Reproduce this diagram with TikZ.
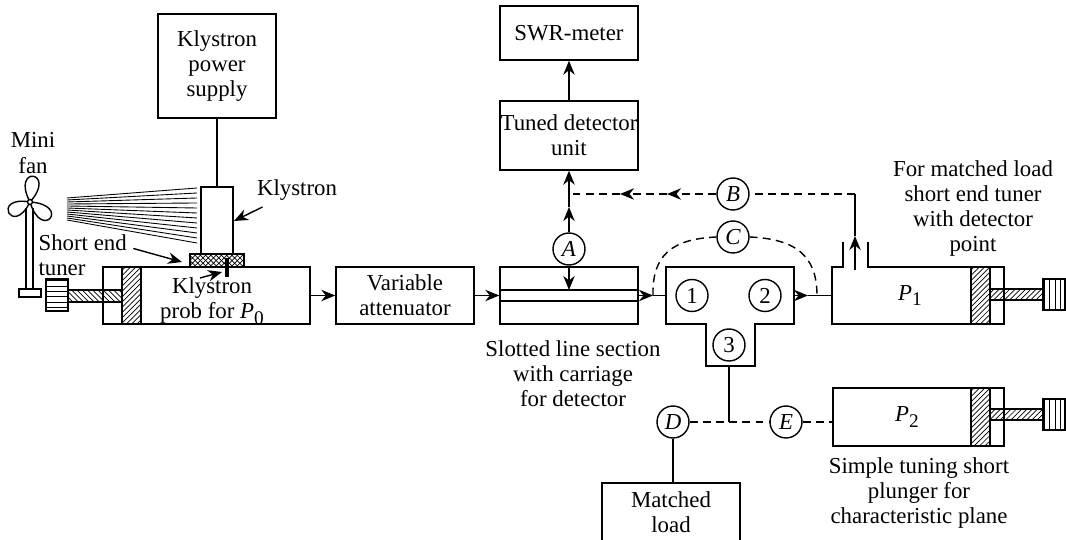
\documentclass[tikz,border=0pt]{standalone}
\usepackage{fontspec}
\setmainfont{Liberation Serif}
\usetikzlibrary{arrows.meta,patterns,positioning}

% italic P with a lowered index
\newcommand{\portP}[1]{\textit{P}\raisebox{-.55ex}{\fontsize{11}{11}\selectfont #1}}

\begin{document}
\begin{tikzpicture}[x=0.02cm,y=-0.02cm,line width=0.8pt,
    >={Stealth[length=8pt,width=6.5pt]},
    every node/.style={font=\fontsize{13}{14.3}\selectfont,align=center},
    unitbox/.style={rectangle,draw,inner sep=0pt},
    port/.style={circle,draw,minimum size=0.64cm,inner sep=0pt},
    dashline/.style={dash pattern=on 4.5pt off 3pt},
    plunger/.style={draw,pattern=north east lines}]
  \useasboundingbox (0,0) rectangle (1066,540);

  % mini fan
  \coordinate (hub) at (30,202);
  \draw (hub) .. controls (58,170.6) and (10.4,164.8) .. (hub)
        (hub) .. controls (12.4,237.8) and (-9.2,195) .. (hub)
        (hub) .. controls (71.9,204.8) and (42.1,242.2) .. (hub);
  \draw[fill=white] (hub) circle (2.5);
  \draw (26,208) -- (26,289) (33,208) -- (33,289);
  \draw (19,289) rectangle (41,297);
  \node (fanlab) at (33,153) {Mini\\fan};

  % air stream on the klystron
  \foreach \i in {0,...,11}
    \draw[line width=0.5pt] (67,{198+2*\i}) -- (197,{188+5*\i});

  % power supply, klystron and its mount
  \node[unitbox,minimum width=2.36cm,minimum height=2.08cm] (ps) at (217,66) {Klystron\\power\\supply};
  \node[unitbox,minimum width=0.64cm,minimum height=1.34cm] (kly) at (217,220.5) {};
  \draw (ps) -- (kly);
  \draw[pattern=crosshatch] (190,254) rectangle (244,267);
  \node[unitbox,minimum width=4.14cm,minimum height=1.14cm] (mount) at (206.5,295.5) {};
  \draw[plunger] (122,267) rectangle (141,324);
  \draw[pattern=north west lines] (68,290) rectangle (122,302);
  \draw[pattern=horizontal lines] (46,279) rectangle (68,311);
  \draw[line width=2pt] (227,258) -- (227,277);
  \node (mountlab) at (212,301) {Klystron\\prob for \portP{0}};

  \node (klylab) at (297,190) {Klystron};
  \coordinate (klyarr) at (234,221);
  \draw[->] (klylab) -- (klyarr);
  \node[align=left,anchor=west] (selab) at (32,255.5) {Short end\\tuner};
  \coordinate (mesharr) at (182,262);
  \draw[->] ([yshift=4pt]selab.east) -- (mesharr);
  \coordinate (probetail) at (200,278);
  \coordinate (probe) at (222,272);
  \draw[->] (probetail) -- (probe);

  % attenuator and slotted line
  \node[unitbox,minimum width=2.76cm,minimum height=1.14cm] (att) at (405,295.5) {Variable\\attenuator};
  \node[unitbox,minimum width=2.76cm,minimum height=1.14cm] (slot) at (569,295.5) {};
  \draw (500,290) -- (638,290) (500,301) -- (638,301);
  \draw[->] (mount) -- (att);
  \draw[->] (att) -- (slot);
  \node (slotlab) at (573,374) {Slotted line section\\with carriage\\for detector};

  % detector chain
  \node[port] (A) at (569,249) {\textit{A}};
  \node[unitbox,minimum width=2.76cm,minimum height=1.38cm] (tuned) at (569,135.5) {Tuned detector\\unit};
  \node[unitbox,minimum width=2.76cm,minimum height=1.08cm] (swr) at (569,33) {SWR-meter};
  \coordinate (carriage) at (569,290);
  \coordinate (Amid) at (569,207);
  \coordinate (Bjoin) at (569,194);
  \draw[->] (A) -- (carriage);
  \draw[->] (A) -- (Amid);
  \draw[->] (Amid) -- (tuned);
  \draw[->] (tuned) -- (swr);

  % magic tee
  \draw (666,267) -- (794,267) -- (794,324) -- (755,324) -- (755,366)
        -- (706,366) -- (706,324) -- (666,324) -- cycle;
  \node[port] (t1) at (692,295.5) {1};
  \node[port] (t2) at (765,295.5) {2};
  \node[port] (t3) at (729,345) {3};
  \coordinate (teeW) at (666,295.5);
  \coordinate (teeE) at (794,295.5);
  \coordinate (teeS) at (729,366);
  \coordinate (inarr) at (653,295.5);
  \coordinate (outarr) at (808,295.5);
  \draw[->] (slot) -- (inarr);
  \draw (inarr) -- (teeW);

  % short end tuner P1 with detector point
  \draw (843,242) -- (843,267) -- (832,267) -- (832,324) -- (1004,324)
        -- (1004,267) -- (868,267) -- (868,242);
  \draw[plunger] (971,267) rectangle (990,324);
  \draw[pattern=north east lines] (990,289) rectangle (1043,300);
  \draw[pattern=vertical lines] (1043,279) rectangle (1065,310);
  \coordinate (p1W) at (832,295.5);
  \node (p1lab) at (910,295.5) {\portP{1}};
  \draw[->] (teeE) -- (outarr);
  \draw (outarr) -- (p1W);
  \node (p1note) at (973,208.5) {For matched load\\short end tuner\\with detector\\point};

  \node[port] (C) at (733,237) {\textit{C}};
  \coordinate (Cend) at (817,295.5);
  \draw[dashline] (inarr) .. controls (652,255) and (672,239) .. (C.west);
  \draw[dashline] (C.east) .. controls (795,239) and (817,255) .. (Cend);

  \node[port] (B) at (733,194) {\textit{B}};
  \coordinate (detfoot) at (855,270);
  \coordinate (dettip) at (855,236);
  \coordinate (dettop) at (855,194);
  \coordinate (Barr1) at (667,194);
  \coordinate (Barr2) at (620,194);
  \draw[->] (detfoot) -- (dettip);
  \draw (dettip) -- (dettop);
  \draw[dashline] (dettop) -- (B);
  \draw[dashline,->] (B) -- (Barr1);
  \draw[dashline,->] (Barr1) -- (Barr2);
  \draw[dashline] (Barr2) -- (Bjoin);

  % third arm: matched load or plunger P2
  \coordinate (stem) at (729,422);
  \draw (teeS) -- (stem);
  \node[port] (D) at (673,422) {\textit{D}};
  \node[port] (E) at (786,422) {\textit{E}};
  \draw[dashline] (D) -- (E);
  \node[unitbox,minimum width=3.42cm,minimum height=1.16cm] (p2) at (918.5,417) {};
  \node (p2lab) at (907,417) {\portP{2}};
  \draw[plunger] (971,388) rectangle (990,446);
  \draw[pattern=north east lines] (990,409) rectangle (1043,420);
  \draw[pattern=vertical lines] (1043,399) rectangle (1065,430);
  \draw[dashline] (E) -- (E -| p2.west);
  \node (p2note) at (919,493) {Simple tuning short\\plunger for\\characteristic plane};

  \node[unitbox,minimum width=2.76cm,minimum height=1.16cm] (load) at (671,512) {Matched\\load};
  \draw (D) -- (D |- load.north);
\end{tikzpicture}
\end{document}
